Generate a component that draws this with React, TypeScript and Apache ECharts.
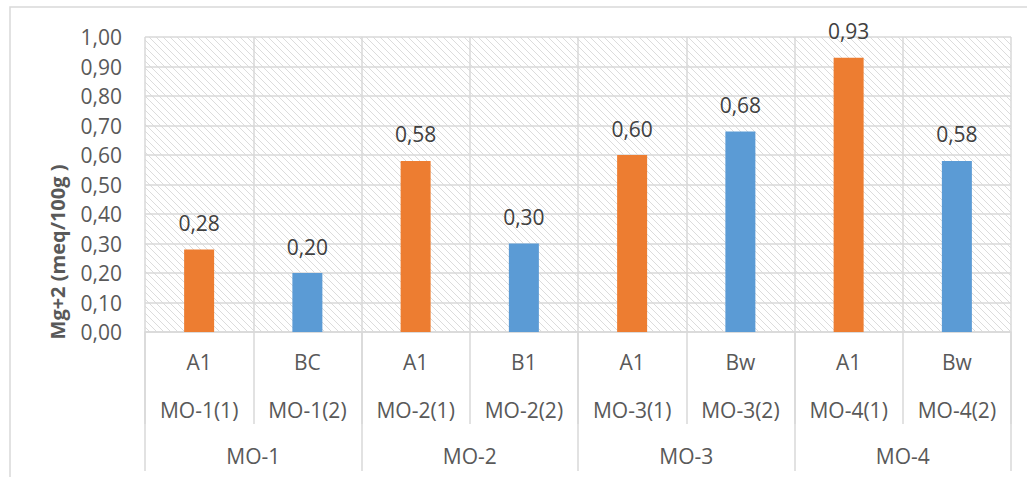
import React, { useEffect, useRef } from "react";
import * as echarts from "echarts";

// Soil horizon, sample code and profile for each bar
const horizons = ["A1", "BC", "A1", "B1", "A1", "Bw", "A1", "Bw"];
const samples = ["MO-1(1)", "MO-1(2)", "MO-2(1)", "MO-2(2)", "MO-3(1)", "MO-3(2)", "MO-4(1)", "MO-4(2)"];
const profiles = ["MO-1", "MO-2", "MO-3", "MO-4"];
// Exchangeable magnesium, meq/100g
const mgValues = [0.28, 0.2, 0.58, 0.3, 0.6, 0.68, 0.93, 0.58];
const barColors = ["#ED7D31", "#5B9BD5", "#ED7D31", "#5B9BD5", "#ED7D31", "#5B9BD5", "#ED7D31", "#5B9BD5"];
const yTicks = { min: 0, max: 1, step: 0.1 };

const FONT = "'Open Sans', 'Liberation Sans', sans-serif";
const GRID_LINE = "#d9d9d9";

const fmt = (v: number) => v.toFixed(2).replace(".", ",");

// Light diagonal hatching tile for the plot background
function hatchCanvas(): HTMLCanvasElement {
  const size = 7;
  const c = document.createElement("canvas");
  c.width = size;
  c.height = size;
  const ctx = c.getContext("2d")!;
  ctx.fillStyle = "#ffffff";
  ctx.fillRect(0, 0, size, size);
  ctx.strokeStyle = "#dcdcdc";
  ctx.lineWidth = 1;
  ctx.beginPath();
  ctx.moveTo(-1, -1);
  ctx.lineTo(size + 1, size + 1);
  ctx.moveTo(size - 1, -1);
  ctx.lineTo(size + 1, 1);
  ctx.moveTo(-1, size - 1);
  ctx.lineTo(1, size + 1);
  ctx.stroke();
  return c;
}

export default function App() {
  const ref = useRef<HTMLDivElement>(null);

  useEffect(() => {
    document.body.style.margin = "0";
    const chart = echarts.init(ref.current!, undefined, { renderer: "svg" });

    chart.setOption({
      animation: false,
      backgroundColor: "#ffffff",
      grid: {
        left: 145,
        top: 37,
        right: 16,
        bottom: 145,
        show: true,
        borderWidth: 0,
        backgroundColor: {
          image: hatchCanvas(),
          repeat: "repeat",
        },
      },
      xAxis: [
        {
          type: "category",
          data: samples,
          position: "bottom",
          axisLine: { show: true, lineStyle: { color: GRID_LINE, width: 1.5 } },
          axisTick: {
            show: true,
            interval: 0,
            length: 92,
            lineStyle: { color: GRID_LINE, width: 1.5 },
          },
          splitLine: { show: true, interval: 0, lineStyle: { color: GRID_LINE, width: 1.5 } },
          axisLabel: {
            interval: 0,
            margin: 6,
            color: "#595959",
            fontFamily: FONT,
            fontSize: 21,
            lineHeight: 48,
            formatter: (v: string, i: number) => `${horizons[i]}\n${v}`,
          },
        },
        {
          type: "category",
          data: profiles,
          position: "bottom",
          axisLine: { show: false },
          axisTick: {
            show: true,
            interval: 0,
            length: 139,
            lineStyle: { color: GRID_LINE, width: 1.5 },
          },
          splitLine: { show: false },
          axisLabel: {
            interval: 0,
            margin: 113,
            color: "#595959",
            fontFamily: FONT,
            fontSize: 21,
            lineHeight: 22,
          },
        },
      ],
      yAxis: {
        type: "value",
        min: yTicks.min,
        max: yTicks.max,
        interval: yTicks.step,
        axisLine: { show: false },
        axisTick: { show: false },
        splitLine: { show: true, lineStyle: { color: GRID_LINE, width: 1.5 } },
        axisLabel: {
          margin: 23,
          color: "#595959",
          fontFamily: FONT,
          fontSize: 21,
          formatter: (v: number) => fmt(v),
        },
      },
      series: [
        {
          type: "bar",
          xAxisIndex: 0,
          barWidth: 30,
          data: mgValues.map((v, i) => ({ value: v, itemStyle: { color: barColors[i] } })),
          label: {
            show: true,
            position: "top",
            distance: 16,
            color: "#404040",
            fontFamily: FONT,
            fontSize: 21,
            formatter: (p: any) => fmt(p.value),
          },
        },
      ],
      graphic: [
        {
          type: "rect",
          shape: { x: 10, y: 7, width: 1040, height: 500 },
          style: { fill: "none", stroke: "#d9d9d9", lineWidth: 1.5 },
          silent: true,
        },
        {
          type: "text",
          x: 57,
          y: 252,
          rotation: Math.PI / 2,
          style: {
            text: "Mg+2 (meq/100g )",
            fill: "#595959",
            font: `bold 20px ${FONT}`,
            textAlign: "center",
            textVerticalAlign: "middle",
          },
        },
      ],
    });

    return () => chart.dispose();
  }, []);

  return <div ref={ref} style={{ width: 1027, height: 477 }} />;
}
